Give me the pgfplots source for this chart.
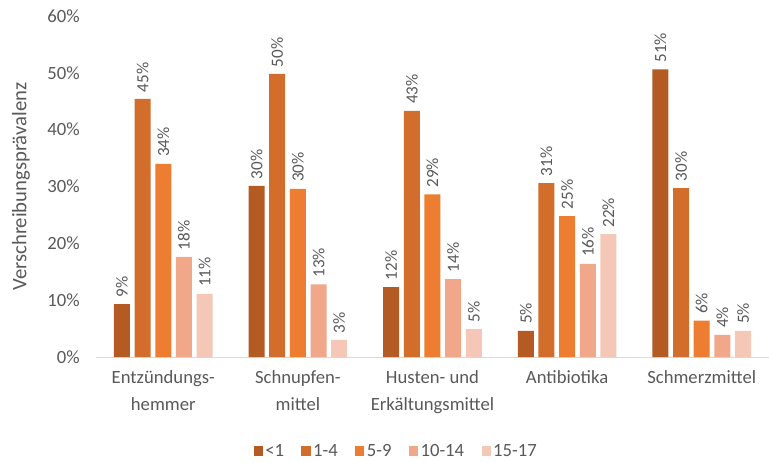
\documentclass[border=0pt]{standalone}
\usepackage{pgfplots}
\pgfplotsset{compat=1.18}
\usepackage{fontspec}
\setmainfont{Carlito}
\definecolor{txt}{HTML}{595959}
\definecolor{cA}{HTML}{B35B22}
\definecolor{cB}{HTML}{D36D2B}
\definecolor{cC}{HTML}{ED7D31}
\definecolor{cD}{HTML}{F0A78A}
\definecolor{cE}{HTML}{F4C7B7}
\begin{document}
\begin{tikzpicture}
\begin{axis}[
  at={(0,0)}, anchor=south west,
  scale only axis,
  width=504.75pt, height=255.75pt,
  ybar=3.5pt, bar width=12pt,
  xmin=-0.5, xmax=4.5,
  ymin=0, ymax=60,
  xtick={0,1,2,3,4},
  xticklabels={{Entzündungs-\\hemmer},{Schnupfen-\\mittel},{Husten- und\\Erkältungsmittel},{Antibiotika},{Schmerzmittel}},
  ytick={0,10,20,30,40,50,60},
  yticklabels={0\%,10\%,20\%,30\%,40\%,50\%,60\%},
  major tick length=0pt,
  axis x line*=bottom,
  axis y line*=left,
  x axis line style={draw=black!15, line width=0.75pt, -},
  y axis line style={draw=none},
  xticklabel style={font=\fontsize{14}{20}\selectfont, text=txt, align=center, anchor=north, inner sep=0pt, yshift=-10pt},
  yticklabel style={font=\fontsize{14}{17}\selectfont, text=txt, anchor=east, inner sep=0pt, xshift=-12pt},
  ylabel={Verschreibungsprävalenz},
  ylabel style={at={(axis description cs:-0.1114,0.5)}, anchor=center, font=\fontsize{15.5}{18}\selectfont, text=txt},
  nodes near coords={\pgfmathprintnumber[fixed,precision=0,assume math mode=true]{\pgfplotspointmeta}\%},
  every node near coord/.append style={rotate=90, anchor=west, font=\fontsize{12.8}{15}\selectfont, text=txt, inner sep=1pt, xshift=4pt},
  legend style={at={(axis description cs:0.4466,0)}, yshift=-70.5pt, anchor=center, draw=none, fill=none, font=\fontsize{14}{17}\selectfont, text=txt, legend columns=5, /tikz/every even column/.append style={column sep=11pt}},
  legend image code/.code={\fill[#1] (0pt,-3.4pt) rectangle (6.8pt,3.4pt);},
  clip=false,
]
\addplot[fill=cA, draw=none] coordinates {(0,9.3) (1,30.1) (2,12.3) (3,4.6) (4,50.6)};
\addplot[fill=cB, draw=none] coordinates {(0,45.4) (1,49.8) (2,43.3) (3,30.6) (4,29.7)};
\addplot[fill=cC, draw=none] coordinates {(0,34.0) (1,29.6) (2,28.6) (3,24.8) (4,6.4)};
\addplot[fill=cD, draw=none] coordinates {(0,17.6) (1,12.8) (2,13.7) (3,16.4) (4,3.9)};
\addplot[fill=cE, draw=none] coordinates {(0,11.1) (1,3.0) (2,4.9) (3,21.6) (4,4.6)};
\legend{<1,1-4,5-9,10-14,15-17}
\end{axis}
\pgfresetboundingbox
\path[use as bounding box] (-72pt,-78.75pt) rectangle (504.75pt,267.75pt);
\end{tikzpicture}
\end{document}
